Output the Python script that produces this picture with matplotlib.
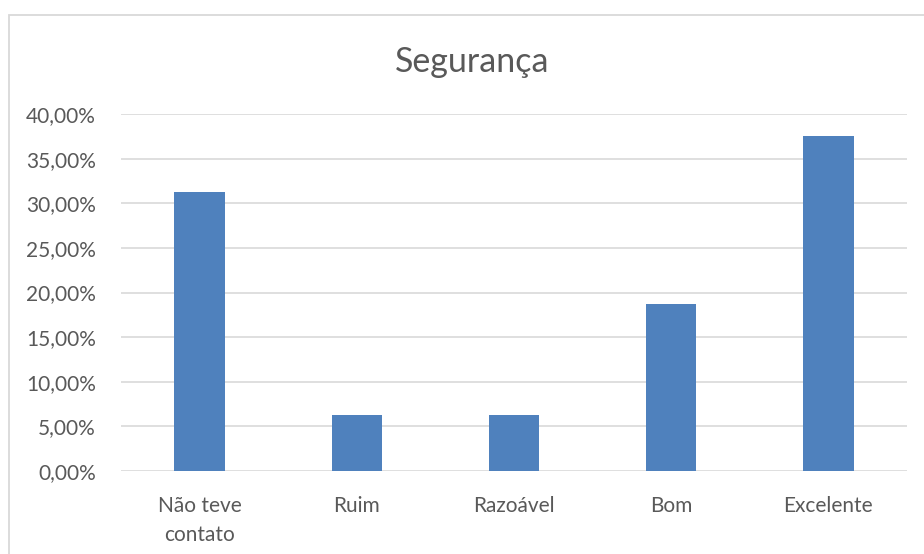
import matplotlib.pyplot as plt
from matplotlib.patches import Rectangle
from matplotlib.ticker import FuncFormatter

categories = ["Não teve\ncontato", "Ruim", "Razoável", "Bom", "Excelente"]
values = [31.25, 6.25, 6.25, 18.75, 37.5]  # percent
yticks = [0, 5, 10, 15, 20, 25, 30, 35, 40]

W, H = 924, 554
plt.rcParams['font.family'] = ['Lato', 'DejaVu Sans']
text_color = '#595959'

fig = plt.figure(figsize=(W / 100, H / 100), dpi=100)
fig.patch.set_facecolor('white')

# chart frame
fig.patches.append(Rectangle((9 / W, -0.05), (W - 9 + 20) / W, 1 + 0.05 - 15 / H,
                             transform=fig.transFigure, fill=False,
                             edgecolor='#d9d9d9', linewidth=1.3))

left, right = 121 / W, 907 / W
bottom, top = 1 - 471 / H, 1 - 114 / H
ax = fig.add_axes([left, bottom, right - left, top - bottom])

x = range(len(categories))
ax.bar(x, values, width=0.32, color='#4f81bd', zorder=3)

ax.set_xlim(-0.5, len(categories) - 0.5)
ax.set_ylim(0, 40)
ax.set_yticks(yticks)
ax.yaxis.set_major_formatter(FuncFormatter(lambda v, p: f"{v:.2f}%".replace('.', ',')))
ax.set_xticks(list(x))
ax.set_xticklabels(categories, linespacing=1.55)

ax.grid(axis='y', color='#d9d9d9', linewidth=1.2, zorder=0)
for s in ax.spines.values():
    s.set_visible(False)
ax.tick_params(axis='both', length=0, labelsize=15, colors=text_color)
ax.tick_params(axis='y', pad=18)
ax.tick_params(axis='x', pad=18)
for lbl in ax.get_xticklabels():
    lbl.set_verticalalignment('top')

fig.text(472 / W, 1 - 62 / H, "Segurança", ha='center', va='center',
         fontsize=24.5, color=text_color)

fig.savefig("out.png", dpi=100)
